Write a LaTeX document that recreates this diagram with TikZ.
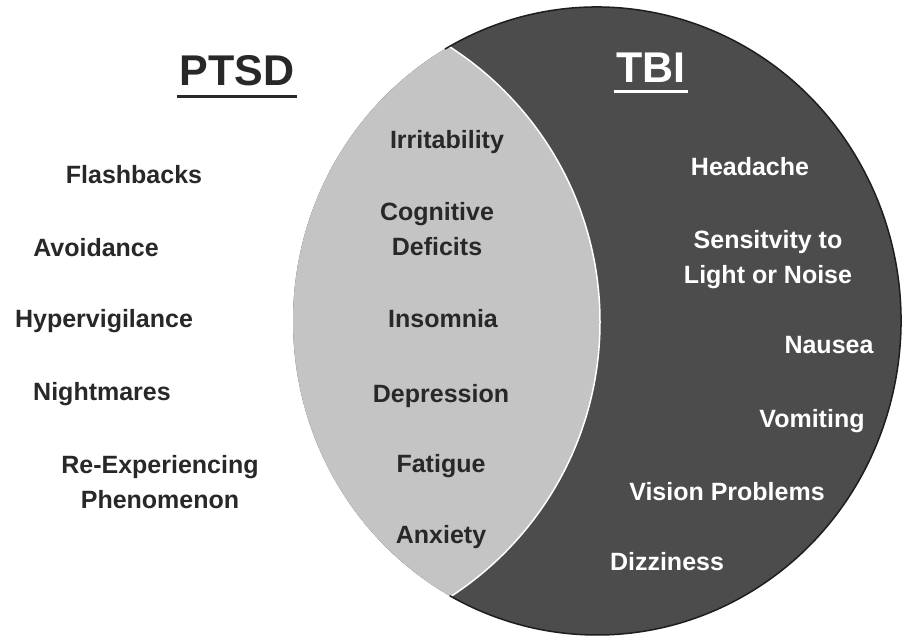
\documentclass[tikz,border=0pt]{standalone}
\usepackage{fontspec}
\setmainfont{Liberation Sans}
\usepackage{xcolor}
\usepackage{tikz}
\usetikzlibrary{positioning,calc}

\definecolor{tbigray}{RGB}{76,76,76}
\definecolor{lensgray}{RGB}{196,196,196}
\definecolor{rimgray}{RGB}{30,30,30}
\definecolor{txtdark}{RGB}{40,40,40}

\tikzset{
  sym/.style={font=\bfseries\fontsize{25}{35}\selectfont, inner sep=0pt, anchor=base, align=center},
  ptsdsym/.style={sym, text=txtdark},
  lenssym/.style={sym, text=txtdark},
  tbisym/.style={sym, text=white},
  heading/.style={font=\bfseries\fontsize{43}{50}\selectfont, inner sep=2pt, anchor=base},
}

\begin{document}
\begin{tikzpicture}[x=1pt,y=-1pt]
        \useasboundingbox[fill=white] (0,0) rectangle (902,638);
        \coordinate (tbi) at (597,321);
        \coordinate (ptsd) at (273,322);

        % TBI circle
        \fill[tbigray] (tbi) ellipse [x radius=304, y radius=314];
        % Overlap with PTSD
        \begin{scope}
            \clip (tbi) ellipse [x radius=304, y radius=314];
            \fill[lensgray] (ptsd) circle [radius=327];
            \draw[white, line width=1.5pt] (ptsd) circle [radius=327];
        \end{scope}
        \draw[rimgray, line width=1.5pt] ([shift={(-120:304 and 314)}]tbi)
            arc [start angle=-120, end angle=119, x radius=304, y radius=314];

        % Headings
        \node[heading, text=txtdark] (ptsdtitle) at (237,85) {PTSD};
        \node[heading, text=white] (tbititle) at (651,82) {TBI};
        \draw[txtdark, line width=3pt] ([yshift=-11pt]ptsdtitle.base west) -- ([yshift=-11pt]ptsdtitle.base east);
        \draw[white, line width=3pt] ([yshift=-9pt]tbititle.base west) -- ([yshift=-9pt]tbititle.base east);

        % PTSD only
        \node[ptsdsym] (flash) at (134,183) {Flashbacks};
        \node[ptsdsym] (avoid) at (96,256) {Avoidance};
        \node[ptsdsym] (hyper) at (104,327) {Hypervigilance};
        \node[ptsdsym] (night) at (102,400) {Nightmares};
        \node[ptsdsym] (reexp) at (160,508) {Re-Experiencing\\Phenomenon};

        % Both
        \node[lenssym] (irrit) at (447,148) {Irritability};
        \node[lenssym] (cogn) at (437,255) {Cognitive\\Deficits};
        \node[lenssym] (insom) at (443,327) {Insomnia};
        \node[lenssym] (depr) at (441,402) {Depression};
        \node[lenssym] (fatig) at (441,472) {Fatigue};
        \node[lenssym] (anx) at (441,543) {Anxiety};

        % TBI only
        \node[tbisym] (head) at (750,175) {Headache};
        \node[tbisym] (sens) at (768,283) {Sensitvity to\\Light or Noise};
        \node[tbisym] (naus) at (829,353) {Nausea};
        \node[tbisym] (vomit) at (812,427) {Vomiting};
        \node[tbisym] (vision) at (727,500) {Vision Problems};
        \node[tbisym] (dizz) at (667,570) {Dizziness};
    \end{tikzpicture}
\end{document}
